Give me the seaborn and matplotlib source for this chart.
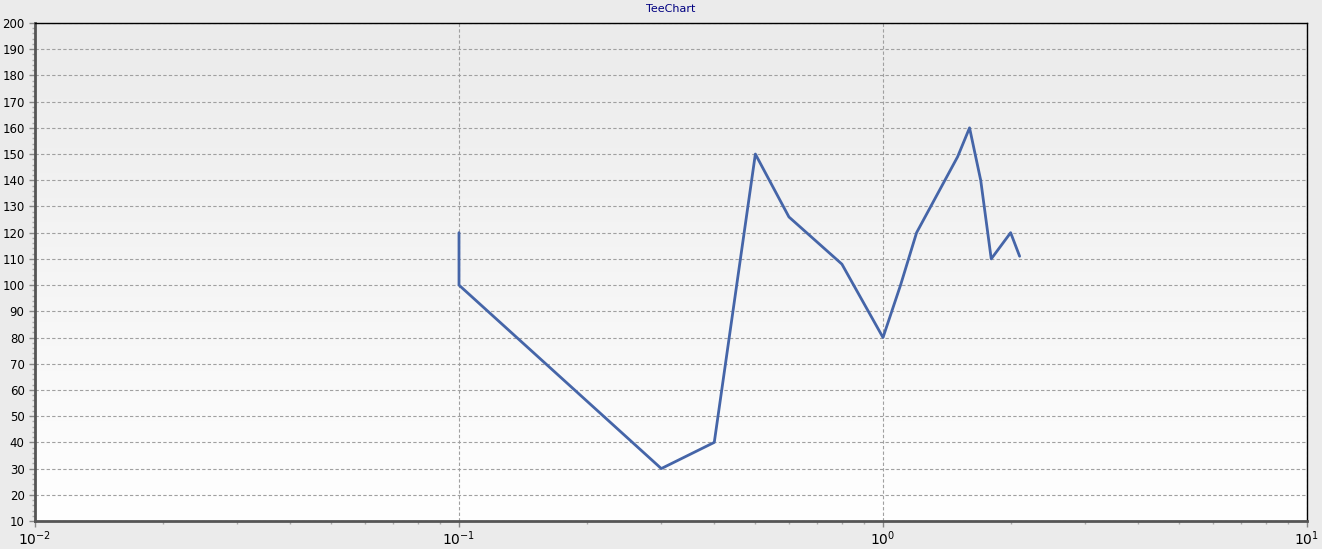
import numpy as np
import pandas as pd
import seaborn as sns
import matplotlib.pyplot as plt
from matplotlib.ticker import MultipleLocator, LogLocator

# values
x_vals = [0.1, 0.1, 0.3, 0.4, 0.5, 0.6, 0.8, 1.0, 1.1, 1.2, 1.5, 1.6, 1.7, 1.8, 2.0, 2.1]
y_vals = [120, 100, 30, 40, 150, 126, 108, 80, 100, 120, 149, 160, 140, 110, 120, 111]
y_ticks = list(range(10, 201, 10))

df = pd.DataFrame({"x": x_vals, "y": y_vals})

sns.set_style("white")
plt.rcParams['font.family'] = ['Verdana', 'DejaVu Sans']

fig = plt.figure(figsize=(13.22, 5.49), dpi=100, facecolor="#ebebeb")
ax = fig.add_axes([35 / 1322, 28 / 549, 1272 / 1322, 498 / 549])

# background gradient: light gray at top to white at bottom
grad = np.linspace(0, 1, 256).reshape(-1, 1)
ax.imshow(grad, extent=[0, 1, 0, 1], transform=ax.transAxes, aspect="auto",
          cmap=plt.matplotlib.colors.LinearSegmentedColormap.from_list("bg", ["#ebebeb", "#ffffff"]),
          origin="upper", zorder=0)

sns.lineplot(data=df, x="x", y="y", sort=False, estimator=None, color="#4565a8",
             linewidth=2, ax=ax, zorder=3)

ax.set_xscale("log")
ax.set_xlim(0.01, 10)
ax.set_ylim(10, 200)
ax.set_yticks(y_ticks)
ax.yaxis.set_minor_locator(MultipleLocator(2))
ax.xaxis.set_minor_locator(LogLocator(base=10, subs=np.arange(2, 10)))

ax.grid(True, which="major", color="#a0a0a0", linestyle=(0, (3, 2)), linewidth=0.8, zorder=1)
ax.set_axisbelow(True)

ax.set_xlabel("")
ax.set_ylabel("")
ax.set_title("TeeChart", fontsize=8, color="#000080", pad=8)

for side in ["top", "right"]:
    ax.spines[side].set_color("black")
    ax.spines[side].set_linewidth(1)
for side in ["left", "bottom"]:
    ax.spines[side].set_color("#555555")
    ax.spines[side].set_linewidth(2)

ax.tick_params(axis="both", which="major", direction="out", length=4, width=1,
               color="#888888", labelsize=8.5, labelcolor="black", left=True, bottom=True)
ax.tick_params(axis="x", which="major", labelsize=10, pad=2)
ax.tick_params(axis="both", which="minor", direction="out", length=2, width=1,
               color="#aaaaaa", left=True, bottom=True)

fig.savefig("out.png", dpi=100, facecolor=fig.get_facecolor())
